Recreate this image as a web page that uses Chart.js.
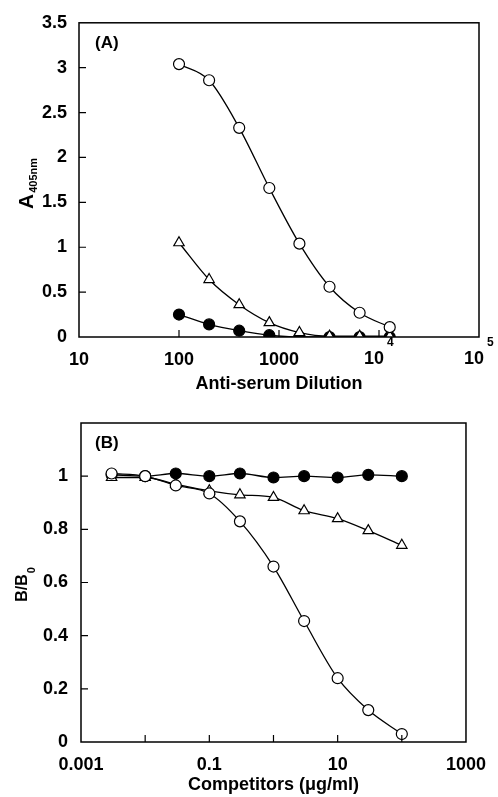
<!DOCTYPE html>
<html>
<head>
<meta charset="utf-8">
<script src="https://cdn.jsdelivr.net/npm/chart.js@4.4.1/dist/chart.umd.min.js"></script>
<style>
  html, body { margin: 0; padding: 0; background: #fff; }
  #wrap { position: relative; width: 498px; height: 797px; }
  canvas { position: absolute; left: 0; }
</style>
</head>
<body>
<div id="wrap">
  <canvas id="chartA" width="498" height="397" style="top:0"></canvas>
  <canvas id="chartB" width="498" height="400" style="top:397px"></canvas>
</div>
<script>
// panel A - titration of anti-serum
var dilution = [100, 200, 400, 800, 1600, 3200, 6400, 12800];
var antiOpen = [3.04, 2.86, 2.33, 1.66, 1.04, 0.56, 0.27, 0.11];
var antiTri = [1.05, 0.64, 0.36, 0.16, 0.05, 0.01, 0.01, 0.01];
var antiFilled = [0.25, 0.14, 0.07, 0.02, 0.0, 0.0, 0.0, 0.0];
var dilutionTicks = [10, 100, 1000, 10000, 100000];
var dilutionLabels = ['10', '100', '1000', '', ''];
// powers of ten written as 10 with a raised exponent
var dilutionPowers = [[10000, '4'], [100000, '5']];

// panel B - competition
var conc = [0.003, 0.01, 0.03, 0.1, 0.3, 1, 3, 10, 30, 100];
var compOpen = [1.01, 1.0, 0.965, 0.935, 0.83, 0.66, 0.455, 0.24, 0.12, 0.03];
var compTri = [0.995, 0.995, 0.97, 0.945, 0.93, 0.92, 0.87, 0.84, 0.795, 0.74];
var compFilled = [1.005, 1.0, 1.01, 1.0, 1.01, 0.995, 1.0, 0.995, 1.005, 1.0];
var concTicks = [0.001, 0.01, 0.1, 1, 10, 100, 1000];
var concLabels = ['0.001', '', '0.1', '', '10', '', '1000'];
var bTicks = [0, 0.2, 0.4, 0.6, 0.8, 1];

var FONT = 'Liberation Sans, Arial, sans-serif';

function pts(xs, ys) {
    return xs.map(function (x, i) { return { x: x, y: ys[i] }; });
}

function series(xs, ys, style, fill, ord) {
    return {
        data: pts(xs, ys),
        borderColor: '#000',
        borderWidth: 1.3,
        pointStyle: style,
        pointRadius: style === 'triangle' ? 6 : 5.5,
        pointBackgroundColor: fill,
        pointBorderColor: '#000',
        pointBorderWidth: 1.2,
        cubicInterpolationMode: 'monotone',
        order: ord
    };
}

// frame, inward ticks, titles
function decor(o) {
    return {
        id: 'decor',
        afterDraw: function (chart) {
            var ctx = chart.ctx, a = chart.chartArea;
            var sx = chart.scales.x, sy = chart.scales.y;
            ctx.save();
            ctx.strokeStyle = '#000';
            ctx.lineWidth = 1.5;
            ctx.strokeRect(a.left, a.top, a.width, a.height);
            ctx.lineWidth = 1.2;
            ctx.beginPath();
            sx.ticks.forEach(function (t) {
                var px = sx.getPixelForValue(t.value);
                if (px <= a.left + 1 || px >= a.right - 1) return;
                ctx.moveTo(px, a.bottom);
                ctx.lineTo(px, a.bottom - 7);
            });
            sy.ticks.forEach(function (t) {
                var py = sy.getPixelForValue(t.value);
                if (py >= a.bottom - 1 || py <= a.top + 1) return;
                ctx.moveTo(a.left, py);
                ctx.lineTo(a.left + 7, py);
            });
            ctx.stroke();

            ctx.fillStyle = '#000';
            ctx.textBaseline = 'alphabetic';
            ctx.font = 'bold 17px ' + FONT;
            ctx.textAlign = 'left';
            ctx.fillText(o.panel, 95, a.top + 25);

            (o.powers || []).forEach(function (p) {
                var px = sx.getPixelForValue(p[0]);
                ctx.font = 'bold 18px ' + FONT;
                ctx.textAlign = 'center';
                ctx.fillText('10', px - 5, a.bottom + 27);
                ctx.font = 'bold 12px ' + FONT;
                ctx.textAlign = 'left';
                ctx.fillText(p[1], px + 8, a.bottom + 9);
            });

            ctx.font = 'bold 18px ' + FONT;
            ctx.textAlign = 'center';
            ctx.fillText(o.xTitle, (a.left + a.right) / 2, o.xTitleY);

            // rotated y title with subscript
            ctx.translate(o.yTitleX, o.yTitleC);
            ctx.rotate(-Math.PI / 2);
            ctx.textAlign = 'left';
            ctx.font = 'bold ' + o.ySize + 'px ' + FONT;
            var w1 = ctx.measureText(o.yMain).width;
            ctx.font = 'bold 11px ' + FONT;
            var w2 = ctx.measureText(o.ySub).width;
            var x0 = -(w1 + w2) / 2;
            ctx.font = 'bold ' + o.ySize + 'px ' + FONT;
            ctx.fillText(o.yMain, x0, 0);
            ctx.font = 'bold 11px ' + FONT;
            ctx.fillText(o.ySub, x0 + w1 + 1, o.subDrop);
            ctx.restore();
        }
    };
}

function axisFit(size, key) {
    return function (scale) { scale[key] = size; };
}

var tickFont = { family: FONT, size: 18, weight: 'bold' };
var noGrid = { display: false, drawTicks: false };

var chartA = new Chart(document.getElementById('chartA').getContext('2d'), {
    type: 'line',
    data: {
        datasets: [
            series(dilution, antiOpen, 'circle', '#fff', 1),
            series(dilution, antiTri, 'triangle', '#fff', 2),
            series(dilution, antiFilled, 'circle', '#000', 3)
        ]
    },
    options: {
        responsive: false,
        animation: false,
        layout: { padding: { top: 19, right: 19, left: 0, bottom: 0 } },
        plugins: { legend: { display: false }, tooltip: { enabled: false } },
        scales: {
            x: {
                type: 'logarithmic',
                min: 10, max: 100000,
                afterFit: axisFit(60, 'height'),
                afterBuildTicks: function (s) { s.ticks = dilutionTicks.map(function (v) { return { value: v }; }); },
                grid: noGrid,
                border: { display: false },
                ticks: {
                    autoSkip: false, maxRotation: 0, padding: 12, color: '#000',
                    font: tickFont,
                    callback: function (v) { return dilutionLabels[dilutionTicks.indexOf(v)]; }
                }
            },
            y: {
                min: 0, max: 3.5,
                afterFit: axisFit(79, 'width'),
                grid: noGrid,
                border: { display: false },
                ticks: {
                    stepSize: 0.5, padding: 12, color: '#000',
                    font: tickFont,
                    callback: function (v) { return String(v); }
                }
            }
        }
    },
    plugins: [decor({
        panel: '(A)', powers: dilutionPowers,
        xTitle: 'Anti-serum Dilution', xTitleY: 389,
        yMain: 'A', ySub: '405nm', ySize: 21, subDrop: 4, yTitleX: 33, yTitleC: 184
    })]
});

var chartB = new Chart(document.getElementById('chartB').getContext('2d'), {
    type: 'line',
    data: {
        datasets: [
            series(conc, compOpen, 'circle', '#fff', 1),
            series(conc, compTri, 'triangle', '#fff', 2),
            series(conc, compFilled, 'circle', '#000', 3)
        ]
    },
    options: {
        responsive: false,
        animation: false,
        layout: { padding: { top: 26, right: 16, left: 0, bottom: 0 } },
        plugins: { legend: { display: false }, tooltip: { enabled: false } },
        scales: {
            x: {
                type: 'logarithmic',
                min: 0.001, max: 1000,
                afterFit: axisFit(55, 'height'),
                afterBuildTicks: function (s) { s.ticks = concTicks.map(function (v) { return { value: v }; }); },
                grid: noGrid,
                border: { display: false },
                ticks: {
                    autoSkip: false, maxRotation: 0, padding: 12, color: '#000',
                    font: tickFont,
                    callback: function (v) { return concLabels[concTicks.indexOf(v)]; }
                }
            },
            y: {
                min: 0, max: 1.2,
                afterFit: axisFit(81, 'width'),
                afterBuildTicks: function (s) { s.ticks = bTicks.map(function (v) { return { value: v }; }); },
                grid: noGrid,
                border: { display: false },
                ticks: {
                    padding: 13, color: '#000',
                    font: tickFont,
                    callback: function (v) { return String(Math.round(v * 10) / 10); }
                }
            }
        }
    },
    plugins: [decor({
        panel: '(B)',
        xTitle: 'Competitors (\u03bcg/ml)', xTitleY: 393,
        yMain: 'B/B', ySub: '0', ySize: 16, subDrop: 8, yTitleX: 27, yTitleC: 188
    })]
});
</script>
</body>
</html>
